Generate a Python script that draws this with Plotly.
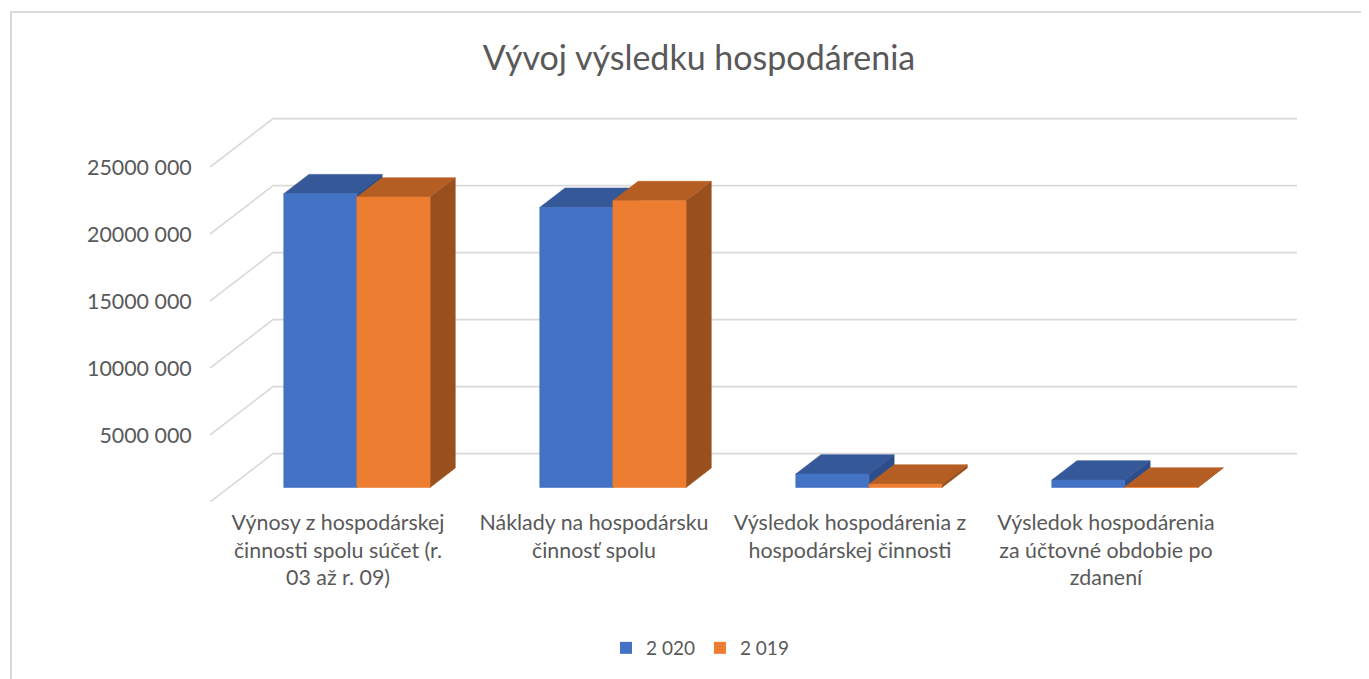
import plotly.graph_objects as go

# ---------------- data ----------------
categories = [
    "Výnosy z hospodárskej činnosti spolu súčet (r. 03 až r. 09)",
    "Náklady na hospodársku činnosť spolu",
    "Výsledok hospodárenia z hospodárskej činnosti",
    "Výsledok hospodárenia za účtovné obdobie po zdanení",
]
category_ticktext = [
    "Výnosy z hospodárskej<br>činnosti spolu súčet (r.<br>03 až r. 09)",
    "Náklady na hospodársku<br>činnosť spolu",
    "Výsledok hospodárenia z<br>hospodárskej činnosti",
    "Výsledok hospodárenia<br>za účtovné obdobie po<br>zdanení",
]
series_names = ["2 020", "2 019"]
values_2020 = [21_920_000, 20_900_000, 1_000_000, 550_000]
values_2019 = [21_670_000, 21_400_000, 250_000, 30_000]
y_tickvals = [5_000_000, 10_000_000, 15_000_000, 20_000_000, 25_000_000]
y_ticktext = ["5000 000", "10000 000", "15000 000", "20000 000", "25000 000"]
grid_vals = [0, 5_000_000, 10_000_000, 15_000_000, 20_000_000, 25_000_000]

# ---------------- style / projection ----------------
FONT = "Lato"
TEXT = "#595959"
GRID = "#D9D9D9"
FRONT = ["#4472C4", "#ED7D31"]
TOP = ["#345898", "#B55E23"]
SIDE = ["#2D4E8A", "#9A4F1E"]

OFF = 8                      # page body margin in the browser
W, H = 1369 - OFF, 679 - OFF
ML, MR, MT, MB = 210 - OFF, 72, 110 - OFF, 177
PX_PER_UNIT = 256.0          # px per category slot
PX_PER_VAL = 13.4 / 1e6      # px per value unit
DX = 63 / PX_PER_UNIT        # oblique depth offset (x units)
DY = 48.4 / PX_PER_VAL       # oblique depth offset (value units)
BAR_W = 1 / 3.5              # gap width 150 %
D0, D1 = 0.30, 0.70          # bar depth span (fraction of floor depth)

x_max = 3.5 + DX
y_max = (H - MT - MB) / PX_PER_VAL

fig = go.Figure()

# back wall + side wall gridlines
gx, gy = [], []
for v in grid_vals:
    gx += [-0.5, -0.5 + DX, x_max, None]
    gy += [v, v + DY, v + DY, None]
fig.add_trace(go.Scatter(x=gx, y=gy, mode="lines", line=dict(color=GRID, width=1.6),
                         hoverinfo="skip", showlegend=False))


def poly(xs, ys, color):
    fig.add_trace(go.Scatter(x=xs + [xs[0]], y=ys + [ys[0]], mode="lines", fill="toself",
                             fillcolor=color, line=dict(color=color, width=0.6),
                             hoverinfo="skip", showlegend=False))


series = [values_2020, values_2019]
for i in range(len(categories)):
    for s, vals in enumerate(series):
        v = vals[i]
        xl = i - BAR_W + s * BAR_W
        x0 = xl + D0 * DX
        y0 = D0 * DY
        ddx = (D1 - D0) * DX
        ddy = (D1 - D0) * DY
        x1 = x0 + BAR_W
        # right side face
        poly([x1, x1 + ddx, x1 + ddx, x1], [y0, y0 + ddy, y0 + v + ddy, y0 + v], SIDE[s])
        # top face
        poly([x0, x1, x1 + ddx, x0 + ddx], [y0 + v, y0 + v, y0 + v + ddy, y0 + v + ddy], TOP[s])
        # front face
        poly([x0, x1, x1, x0], [y0, y0, y0 + v, y0 + v], FRONT[s])

# legend entries
for s, name in enumerate(series_names):
    fig.add_trace(go.Scatter(x=[None], y=[None], mode="markers", name=name,
                             marker=dict(symbol="square", size=12, color=FRONT[s])))


def px_to_paper_x(px):
    return (px - OFF - ML) / (W - ML - MR)


def px_to_paper_y(py):
    return (H - MB - (py - OFF)) / (H - MT - MB)


# chart area border (extends beyond right/bottom edges of image)
fig.add_shape(type="rect", xref="paper", yref="paper",
              x0=px_to_paper_x(11), x1=px_to_paper_x(1369 + 30),
              y0=px_to_paper_y(679 + 30), y1=px_to_paper_y(12),
              line=dict(color=GRID, width=2), fillcolor="rgba(0,0,0,0)", layer="below")

fig.update_layout(
    width=W, height=H,
    margin=dict(l=ML, r=MR, t=MT, b=MB),
    paper_bgcolor="white", plot_bgcolor="white",
    font=dict(family=FONT, color=TEXT),
    title=dict(text="Vývoj výsledku hospodárenia", xref="container", yref="container",
               x=(699 - OFF) / W, y=1 - (58 - OFF) / H, xanchor="center", yanchor="middle",
               font=dict(family=FONT, size=34, color=TEXT)),
    xaxis=dict(range=[-0.5, x_max], showgrid=False, zeroline=False, showline=False,
               tickvals=[0, 1, 2, 3], ticktext=category_ticktext, tickangle=0,
               ticks="outside", ticklen=1, tickcolor="rgba(0,0,0,0)",
               tickfont=dict(family=FONT, size=21.4, color=TEXT)),
    yaxis=dict(range=[0, y_max], showgrid=False, zeroline=False, showline=False,
               tickvals=y_tickvals, ticktext=y_ticktext,
               ticks="outside", ticklen=13, tickcolor="rgba(0,0,0,0)",
               tickfont=dict(family=FONT, size=21.4, color=TEXT)),
    legend=dict(orientation="h", x=px_to_paper_x(700), xanchor="center",
                y=px_to_paper_y(648), yanchor="middle",
                font=dict(family=FONT, size=19, color=TEXT)),
    showlegend=True,
)

fig.write_html("out.html")
